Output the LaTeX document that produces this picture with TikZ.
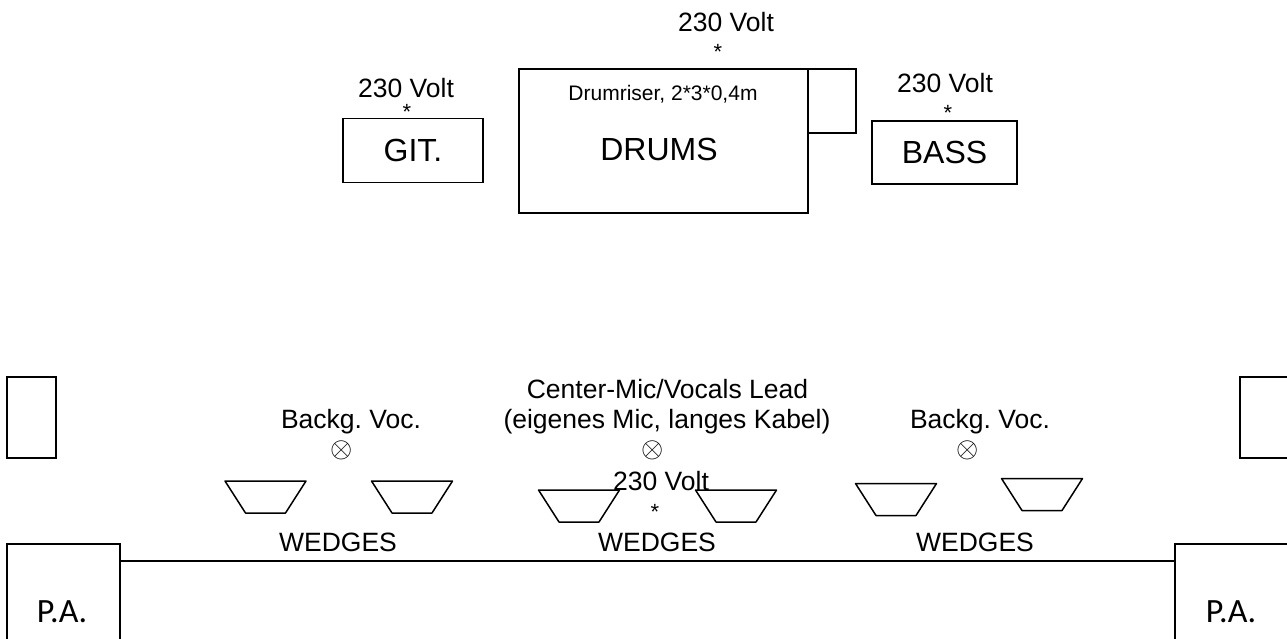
\documentclass[tikz,border=0pt]{standalone}
\usepackage{fontspec}
\setmainfont{Liberation Sans}
\newfontfamily\pafont{Carlito}
\frenchspacing
\newcommand{\micsym}{\scalebox{1.15}{$\otimes$}}
\tikzset{
  box/.style={rectangle,draw=black,line width=1.6pt,inner sep=0pt,
    font=\fontsize{32}{36}\selectfont},
  amp/.style={box,minimum width=140pt,minimum height=64pt},
  sidebox/.style={rectangle,draw=black,line width=1.4pt,inner sep=0pt,
    minimum width=49pt,minimum height=81pt},
  pabox/.style={rectangle,draw=black,line width=1.6pt,inner sep=0pt,
    minimum height=106pt},
  lbl/.style={inner sep=0pt,anchor=base,font=\fontsize{26.5}{30}\selectfont},
  small/.style={inner sep=0pt,anchor=base,font=\fontsize{21}{24}\selectfont},
  star/.style={inner sep=0pt,anchor=base,font=\fontsize{22}{24}\selectfont},
  mic/.style={inner sep=0pt,font=\fontsize{24}{28}\selectfont},
  palbl/.style={inner sep=0pt,anchor=base,font=\pafont\fontsize{34}{38}\selectfont},
  wedge/.pic={
    \draw[line width=1.5pt,line join=round] (-40.5,-16) -- (40.5,-16) -- (20,16) -- (-20,16) -- cycle;
  },
  stage/.style={draw=black,line width=2.2pt},
}
\begin{document}
\begin{tikzpicture}[x=1pt,y=-1pt]
\useasboundingbox (0,0) rectangle (1287,638);
\clip (0,0) rectangle (1287,638);

% backline
\node[lbl] (voltGit) at (406,97) {230 Volt};
\node[star] (starGit) at (407,119.5) {*};
\node[amp] (git) at (413,150.5) {GIT.};

\node[lbl] (voltDrums) at (726,31) {230 Volt};
\node[star] (starDrums) at (718,59.5) {*};
\node[box,minimum width=289pt,minimum height=144pt] (drums) at (663.5,141) {};
\node[rectangle,draw=black,line width=1.4pt,inner sep=0pt,
  minimum width=48pt,minimum height=64pt] (riserStep) at (832,101) {};
\node[small] (riser) at (663,100) {Drumriser, 2*3*0,4m};
\node[box,draw=none,inner sep=0pt,anchor=base] (drumsLbl) at (659,160) {DRUMS};

\node[lbl] (voltBass) at (945,92) {230 Volt};
\node[star] (starBass) at (948,120.5) {*};
\node[amp,minimum width=145pt,minimum height=63pt] (bass) at (944.5,152.5) {BASS};

% side fills
\node[sidebox] (sideL) at (31.5,417.5) {};
\node[sidebox] (sideR) at (1264.5,417.5) {};

% vocals
\node[lbl] (vocL) at (351,428) {Backg. Voc.};
\node[mic] (micL) at (342,450) {\micsym};
\node[lbl] (leadA) at (667.5,398) {Center-Mic/Vocals Lead};
\node[lbl] (leadB) at (667,428) {(eigenes Mic, langes Kabel)};
\node[mic] (micC) at (653,450) {\micsym};
\node[lbl] (vocR) at (980,428) {Backg. Voc.};
\node[mic] (micR) at (968,450) {\micsym};

% wedges
\pic (w1) at (265.5,497) {wedge};
\pic (w2) at (412,497) {wedge};
\pic (w3) at (579,506) {wedge};
\pic (w4) at (736,506) {wedge};
\pic (w5) at (896,499.5) {wedge};
\pic (w6) at (1042,494.5) {wedge};
\node[lbl] (wedL) at (338,551) {WEDGES};
\node[lbl] (wedC) at (657,551) {WEDGES};
\node[lbl] (wedR) at (975,551) {WEDGES};

\node[lbl] (voltFront) at (661,490) {230 Volt};
\node[star] (starFront) at (655,519.5) {*};

% front of stage
\node[pabox,minimum width=113pt] (paL) at (63.5,597) {};
\node[pabox,minimum width=120pt] (paR) at (1235,597) {};
\node[palbl] (paLbl) at (62,622) {P.A.};
\node[palbl] (paRbl) at (1231,622) {P.A.};
\coordinate (edge) at (0,561);
\draw[stage] (paL.east |- edge) -- (paR.west |- edge);

\end{tikzpicture}
\end{document}
